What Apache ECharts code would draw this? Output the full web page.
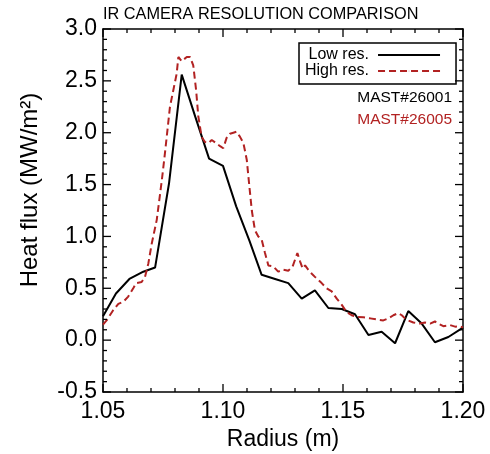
<!DOCTYPE html>
<html>
<head>
<meta charset="utf-8">
<script src="https://cdn.jsdelivr.net/npm/echarts@6/dist/echarts.min.js"></script>
<style>
  html, body { margin: 0; padding: 0; background: #fff; }
  #chart { width: 490px; height: 454px; }
</style>
</head>
<body>
<div id="chart"></div>
<script>
// low resolution camera, MAST#26001
var lowR = [1.0500, 1.0554, 1.0610, 1.0668, 1.0717, 1.0775, 1.0828, 1.0885, 1.0942, 1.1000,
            1.1055, 1.1110, 1.1161, 1.1217, 1.1272, 1.1328, 1.1383, 1.1439, 1.1495, 1.1550,
            1.1606, 1.1661, 1.1717, 1.1772, 1.1828, 1.1883, 1.1939, 1.2000];
var lowQ = [0.23, 0.45, 0.59, 0.66, 0.70, 1.51, 2.56, 2.15, 1.75, 1.68,
            1.29, 0.96, 0.63, 0.59, 0.55, 0.40, 0.48, 0.31, 0.30, 0.25,
            0.05, 0.08, -0.03, 0.28, 0.16, -0.02, 0.03, 0.12];

// high resolution camera, MAST#26005
var highR = [1.0500, 1.0515, 1.0543, 1.0564, 1.0585, 1.0605, 1.0626, 1.0638, 1.0661, 1.0675,
             1.0689, 1.0703, 1.0724, 1.0745, 1.0758, 1.0779, 1.0793, 1.0807, 1.0814, 1.0828,
             1.0835, 1.0849, 1.0863, 1.0876, 1.0888, 1.0897, 1.0911, 1.0925, 1.0939, 1.0953,
             1.0971, 1.0988, 1.1001, 1.1015, 1.1029, 1.1043, 1.1057, 1.1071, 1.1085, 1.1099,
             1.1110, 1.1120, 1.1133, 1.1147, 1.1161, 1.1175, 1.1189, 1.1210, 1.1230, 1.1251,
             1.1272, 1.1290, 1.1310, 1.1321, 1.1332, 1.1342, 1.1355, 1.1370, 1.1383, 1.1397,
             1.1411, 1.1432, 1.1453, 1.1474, 1.1495, 1.1515, 1.1536, 1.1557, 1.1585, 1.1613,
             1.1640, 1.1668, 1.1689, 1.1710, 1.1730, 1.1745, 1.1758, 1.1772, 1.1793, 1.1821,
             1.1842, 1.1863, 1.1883, 1.1897, 1.1918, 1.1946, 1.1967, 1.1988, 1.2000];
var highQ = [0.15, 0.19, 0.29, 0.35, 0.37, 0.42, 0.50, 0.55, 0.56, 0.61,
             0.74, 0.93, 1.16, 1.54, 1.80, 2.25, 2.41, 2.57, 2.73, 2.69,
             2.70, 2.73, 2.73, 2.65, 2.41, 2.16, 1.96, 1.91, 1.90, 1.93,
             1.90, 1.87, 1.85, 1.95, 1.99, 2.00, 2.01, 1.96, 1.90, 1.74,
             1.48, 1.25, 1.06, 1.00, 0.97, 0.84, 0.72, 0.71, 0.66, 0.68,
             0.67, 0.71, 0.84, 0.76, 0.69, 0.72, 0.68, 0.64, 0.61, 0.58,
             0.55, 0.50, 0.47, 0.40, 0.34, 0.27, 0.24, 0.225, 0.22, 0.21,
             0.20, 0.19, 0.21, 0.24, 0.26, 0.24, 0.21, 0.19, 0.17, 0.16,
             0.17, 0.16, 0.18, 0.16, 0.135, 0.145, 0.13, 0.135, 0.12];

var seriesNames = ['Low res.', 'High res.'];
var shotLabels = ['MAST#26001', 'MAST#26005'];

// tick marks (major ones are labelled)
var xMajor = [1.05, 1.10, 1.15, 1.20];
var xMinor = [1.06, 1.07, 1.08, 1.09, 1.11, 1.12, 1.13, 1.14, 1.16, 1.17, 1.18, 1.19];
var yMajor = [-0.5, 0.0, 0.5, 1.0, 1.5, 2.0, 2.5, 3.0];
var yMinor = [-0.4, -0.3, -0.2, -0.1, 0.1, 0.2, 0.3, 0.4, 0.6, 0.7, 0.8, 0.9,
              1.1, 1.2, 1.3, 1.4, 1.6, 1.7, 1.8, 1.9, 2.1, 2.2, 2.3, 2.4, 2.6, 2.7, 2.8, 2.9];

function pairs(xs, ys) {
  var out = [];
  for (var i = 0; i < xs.length; i++) out.push([xs[i], ys[i]]);
  return out;
}

var FONT = 'Liberation Sans';
var RED = '#b22222';
var X_MIN = 1.05, X_MAX = 1.2, Y_MIN = -0.5, Y_MAX = 3.0;

// frame axes: line + labels; ticks come from the custom series below
function xAx(pos, labels) {
  return {
    type: 'value', position: pos, min: X_MIN, max: X_MAX, interval: 0.05,
    axisLine: { show: true, onZero: false, lineStyle: { color: '#000', width: 1.5 } },
    axisTick: { show: false }, minorTick: { show: false },
    splitLine: { show: false },
    axisLabel: {
      show: labels, margin: 8, fontSize: 23, color: '#000', fontFamily: FONT,
      formatter: function (v) { return v.toFixed(2); }
    }
  };
}
function yAx(pos, labels) {
  return {
    type: 'value', position: pos, min: Y_MIN, max: Y_MAX, interval: 0.5,
    axisLine: { show: true, onZero: false, lineStyle: { color: '#000', width: 1.5 } },
    axisTick: { show: false }, minorTick: { show: false },
    splitLine: { show: false },
    axisLabel: {
      show: labels, margin: 6, fontSize: 23, color: '#000', fontFamily: FONT,
      formatter: function (v) { return v.toFixed(1); }
    }
  };
}

var xBottom = xAx('bottom', true);
xBottom.name = 'Radius (m)';
xBottom.nameLocation = 'middle';
xBottom.nameGap = 36;
xBottom.nameTextStyle = { fontSize: 23, color: '#000', fontFamily: FONT };

// inward ticks on both opposite edges
function tickLine(a, b, c, d) {
  return { type: 'line', shape: { x1: a, y1: b, x2: c, y2: d },
           style: { stroke: '#000', lineWidth: 1.3, opacity: 1 } };
}
function renderXTick(params, api) {
  var v = api.value(0), len = api.value(2);
  var b = api.coord([v, Y_MIN]), t = api.coord([v, Y_MAX]);
  return { type: 'group', children: [
    tickLine(b[0], b[1], b[0], b[1] - len),
    tickLine(t[0], t[1], t[0], t[1] + len)
  ] };
}
function renderYTick(params, api) {
  var v = api.value(1), len = api.value(2);
  var l = api.coord([X_MIN, v]), r = api.coord([X_MAX, v]);
  return { type: 'group', children: [
    tickLine(l[0], l[1], l[0] + len, l[1]),
    tickLine(r[0], r[1], r[0] - len, r[1])
  ] };
}
var xTickData = xMajor.map(function (v) { return [v, 1, 8]; })
  .concat(xMinor.map(function (v) { return [v, 1, 4]; }));
var yTickData = yMajor.map(function (v) { return [1.1, v, 8]; })
  .concat(yMinor.map(function (v) { return [1.1, v, 4]; }));

var myChart = echarts.init(document.getElementById('chart'));
myChart.setOption({
  animation: false,
  backgroundColor: '#fff',
  grid: { left: 103, right: 27, top: 29, bottom: 62, outerBoundsMode: 'none', containLabel: false },
  xAxis: [xBottom, xAx('top', false)],
  yAxis: [yAx('left', true), yAx('right', false)],
  legend: {
    data: seriesNames,
    orient: 'vertical',
    left: 299, top: 43,
    align: 'right',
    // tiny item height keeps the legend symbol dot invisibly small
    itemWidth: 62, itemHeight: 1, itemGap: 0,
    padding: [4, 15, 5, 6],
    borderColor: '#000', borderWidth: 1.5,
    textStyle: { fontSize: 16, color: '#000', fontFamily: FONT, padding: [0, 4, 0, 0] }
  },
  graphic: [
    { type: 'text', left: 103, top: 7,
      style: { text: 'IR CAMERA RESOLUTION COMPARISON', font: '16.3px "Liberation Sans"', fill: '#000' } },
    { type: 'text', x: 452, y: 98,
      style: { text: shotLabels[0], font: '15.5px "Liberation Sans"', fill: '#000', align: 'right', verticalAlign: 'middle' } },
    { type: 'text', x: 452, y: 120,
      style: { text: shotLabels[1], font: '15.5px "Liberation Sans"', fill: RED, align: 'right', verticalAlign: 'middle' } },
    { type: 'text', x: 30, y: 190, rotation: Math.PI / 2,
      style: { text: 'Heat flux (MW/m\u00b2)', font: '24px "Liberation Sans"', fill: '#000', align: 'center', verticalAlign: 'middle' } }
  ],
  series: [
    {
      name: seriesNames[0], type: 'line', symbol: 'none',
      data: pairs(lowR, lowQ),
      itemStyle: { color: '#000' },
      lineStyle: { color: '#000', width: 2 }
    },
    {
      name: seriesNames[1], type: 'line', symbol: 'none',
      data: pairs(highR, highQ),
      itemStyle: { color: RED },
      lineStyle: { color: RED, width: 2, type: [7, 4] }
    },
    { name: 'xticks', type: 'custom', silent: true, clip: false, z: 5,
      renderItem: renderXTick, data: xTickData },
    { name: 'yticks', type: 'custom', silent: true, clip: false, z: 5,
      renderItem: renderYTick, data: yTickData }
  ]
});
</script>
</body>
</html>
